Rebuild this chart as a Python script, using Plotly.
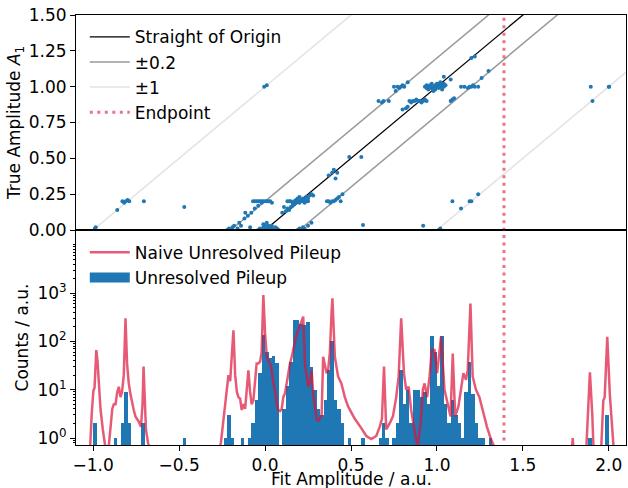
import plotly.graph_objects as go
from plotly.subplots import make_subplots

# ---------------- data ----------------
fit_amp = [
    -0.99, -0.985, -0.86, -0.83, -0.82, -0.81, -0.80, -0.79, -0.705, -0.47,
    -0.005, 0.01,
    -0.22, -0.21, -0.20, -0.19, -0.18, -0.16, -0.15, -0.14, -0.12, -0.115, -0.10, -0.087, -0.08, -0.06, -0.04, -0.02,
    -0.07, -0.06, -0.05, -0.04, -0.03, -0.02, -0.01, 0.0, 0.01, 0.02, 0.03, 0.04,
    -0.04, -0.03, -0.02, -0.01, 0.0, 0.01, 0.02, 0.03, 0.04, 0.05, 0.06, 0.07, 0.08, 0.0, 0.02, 0.04, 0.01, -0.01,
    0.12, 0.13, 0.14, 0.15, 0.16, 0.17, 0.17, 0.18, 0.18, 0.19, 0.20, 0.20, 0.21, 0.21, 0.22, 0.22, 0.23, 0.24, 0.25,
    0.26, 0.27, 0.15, 0.14, 0.13, 0.25, 0.24, 0.19, 0.20, 0.16, 0.23, 0.28, 0.11, 0.10,
    0.19, 0.20, 0.21, 0.22, 0.23, 0.25, 0.27,
    0.36, 0.37, 0.38, 0.39, 0.40, 0.41, 0.42, 0.43, 0.45, 0.44,
    0.37, 0.39, 0.40, 0.42, 0.41, 0.49, 0.56,
    0.93, 0.94, 0.95, 0.96, 0.97, 0.98, 0.99, 1.00, 1.01, 1.02, 1.03, 1.04, 0.95, 0.97, 0.99, 1.01, 1.03, 0.96,
    1.00, 0.98, 1.02, 1.04, 0.94, 1.05,
    0.84, 0.85, 0.86, 0.87, 0.88, 0.89, 0.90, 0.91, 0.92, 0.93, 0.94,
    0.75, 0.77, 0.78, 0.79, 0.80, 0.81, 0.83, 0.76,
    0.66, 0.68, 0.69, 0.72,
    0.80, 0.82, 0.83,
    1.14, 1.16, 1.18, 1.19, 1.20, 1.21, 1.22, 1.24,
    1.08, 1.09, 1.10,
    1.20, 1.22, 1.26, 1.30, 1.04, 1.08,
    1.895, 2.0, 2.002, 1.905,
    1.09, 1.14, 1.19, 1.20, 1.24, 0.57, 0.92, 1.01, 1.02,
]
true_amp = [
    0.01, 0.02, 0.14, 0.20, 0.19, 0.20, 0.21, 0.20, 0.20, 0.16,
    1.00, 1.01,
    0.00, 0.01, 0.00, 0.02, 0.03, 0.01, 0.05, 0.03, 0.08, 0.12, 0.10, 0.02, 0.12, 0.15, 0.17, 0.19,
    0.20, 0.20, 0.20, 0.20, 0.20, 0.20, 0.20, 0.20, 0.20, 0.20, 0.20, 0.19,
    0.00, 0.01, 0.00, 0.02, 0.00, 0.01, 0.00, 0.02, 0.01, 0.00, 0.02, 0.01, 0.00, 0.03, 0.03, 0.03, 0.05, 0.04,
    0.13, 0.15, 0.14, 0.16, 0.17, 0.18, 0.20, 0.19, 0.21, 0.20, 0.20, 0.19, 0.21, 0.20, 0.22, 0.20, 0.21, 0.23, 0.22,
    0.24, 0.25, 0.20, 0.20, 0.20, 0.20, 0.20, 0.22, 0.23, 0.19, 0.19, 0.24, 0.16, 0.12,
    0.00, 0.01, 0.00, 0.02, 0.01, 0.03, 0.05,
    0.20, 0.20, 0.19, 0.20, 0.20, 0.21, 0.22, 0.23, 0.25, 0.20,
    0.38, 0.40, 0.42, 0.40, 0.36, 0.51, 0.51,
    1.00, 0.99, 1.00, 1.01, 0.99, 1.00, 1.01, 1.00, 0.99, 1.00, 1.01, 1.00, 0.98, 1.02, 0.98, 1.02, 0.98, 0.99,
    1.02, 0.97, 1.03, 1.02, 1.01, 1.01,
    0.90, 0.89, 0.90, 0.90, 0.91, 0.90, 0.90, 0.89, 0.90, 0.91, 0.90,
    1.00, 1.00, 0.99, 1.00, 1.01, 1.00, 1.03, 0.97,
    0.90, 0.89, 0.90, 0.90,
    0.84, 0.85, 0.86,
    1.00, 1.00, 0.99, 1.00, 1.00, 1.01, 1.00, 1.00,
    0.90, 0.91, 0.92,
    1.20, 1.21, 1.06, 1.11, 1.07, 1.05,
    1.00, 1.00, 1.00, 0.90,
    0.20, 0.15, 0.20, 0.20, 0.25, 0.035, 0.03, 0.00, 0.01,
]

hist_centers = [
    -0.99, -0.87, -0.83, -0.81, -0.79, -0.71, -0.47,
    -0.23, -0.21, -0.19, -0.13, -0.09, -0.07, -0.05, -0.03, -0.01,
    0.01, 0.03, 0.05, 0.07, 0.11, 0.13, 0.15, 0.17, 0.19, 0.21, 0.23, 0.25, 0.27, 0.29,
    0.31, 0.33, 0.35, 0.37, 0.39, 0.41, 0.43, 0.45, 0.49,
    0.57, 0.67, 0.69, 0.71, 0.75, 0.77, 0.79, 0.81, 0.83, 0.85, 0.87, 0.89, 0.91, 0.93, 0.95,
    0.97, 0.99, 1.01, 1.03, 1.05, 1.07, 1.09, 1.11, 1.13, 1.15, 1.17, 1.19, 1.21, 1.23, 1.25, 1.27, 1.31,
    1.89, 1.99,
]
hist_counts = [
    2, 1, 2, 9, 2, 2, 1,
    1, 3, 1, 1, 1, 2, 6, 22, 135,
    60, 45, 50, 35, 4, 12, 38, 275, 275, 230, 220, 250, 30, 10,
    4, 3, 6, 25, 100, 6, 4, 2, 1,
    1, 1, 2, 1, 1, 2, 25, 5, 10, 2, 10, 10, 7, 9, 5,
    130, 60, 12, 130, 5, 2, 6, 3, 2, 1, 9, 38, 8, 2, 1, 1, 1,
    1, 3,
]

naive_x = [
    -1.03, -1.019, -1.009, -0.999, -0.992, -0.982, -0.975, -0.967, -0.957, -0.944, -0.928,
    -0.909, -0.899, -0.889, -0.880, -0.870, -0.860, -0.851, -0.841, -0.832, -0.822, -0.812, -0.803,
    -0.793, -0.783, -0.774, -0.764, -0.754, -0.735, -0.722, -0.713, -0.707, -0.701, -0.693, -0.681, -0.667,
    -0.30, -0.271, -0.257, -0.242, -0.232, -0.223, -0.213, -0.203, -0.194, -0.184, -0.174, -0.164, -0.155,
    -0.145, -0.136, -0.126, -0.116, -0.106, -0.097, -0.087, -0.078, -0.068, -0.058, -0.049, -0.039, -0.029,
    -0.020, -0.010, 0.000, 0.010, 0.019, 0.029, 0.039, 0.048, 0.058, 0.068, 0.077, 0.087, 0.097, 0.106,
    0.116, 0.126, 0.135, 0.145, 0.155, 0.164, 0.174, 0.184, 0.193, 0.203, 0.213, 0.222, 0.232, 0.242,
    0.251, 0.261, 0.271, 0.280, 0.290, 0.300, 0.309, 0.319, 0.329, 0.338, 0.348, 0.358, 0.367, 0.377,
    0.387, 0.392, 0.406, 0.425, 0.444, 0.464, 0.483, 0.522, 0.560, 0.589, 0.618, 0.647, 0.667, 0.680,
    0.692, 0.705, 0.725, 0.744, 0.763, 0.777, 0.792, 0.808, 0.821, 0.835, 0.850, 0.866, 0.879, 0.889,
    0.905, 0.918, 0.928, 0.943, 0.957, 0.970, 0.986, 1.001, 1.024, 1.044, 1.063, 1.079, 1.092, 1.106,
    1.125, 1.140, 1.154, 1.169, 1.179, 1.195, 1.208, 1.227, 1.247, 1.266, 1.291, 1.314, 1.334, 1.36,
    1.78, 1.79, 1.80,
    1.865, 1.879, 1.890, 1.904, 1.914,
    1.952, 1.968, 1.976, 1.991, 2.006, 2.020, 2.034,
]
naive_y = [
    0.3, 0.5, 3, 9.5, 11, 66, 40, 12, 3.8, 1.5, 0.6,
    0.7, 1.5, 4, 5, 5, 9, 11.5, 7, 9, 20, 300, 35,
    13.5, 8, 5.2, 3.8, 2.8, 2.2, 1.7, 5, 30, 5, 1.5, 0.8, 0.5,
    0.3, 0.5, 0.8, 2.2, 5, 9, 20, 15, 45, 170, 20, 9, 7,
    6.5, 3.8, 5, 4, 9, 25, 9, 5, 6, 15, 35, 35, 38,
    60, 910, 150, 48, 40, 35, 25, 14, 10, 5, 3.8, 3.6, 4, 7,
    8.4, 15, 25, 35, 48, 70, 100, 140, 170, 210, 250, 325, 35, 20,
    11.5, 15, 25, 8, 3.8, 2.5, 2.2, 2.5, 3, 48, 30, 22, 25, 60,
    400, 780, 48, 18.6, 13.5, 7, 4.5, 2.5, 1.6, 1.1, 0.95, 1.1, 1.7, 2.5,
    30, 1.5, 2, 2.8, 7, 18.6, 300, 22, 10, 11.5, 3.8, 1.5, 0.9, 0.72,
    2, 10, 13.5, 7, 18.6, 66, 66, 22, 125, 10, 5.2, 2.8, 56, 2.8,
    4.5, 10, 22, 16, 25, 610, 18.6, 10, 7, 3.8, 1.7, 0.95, 0.65, 0.3,
    0.3, 1.0, 0.3,
    0.3, 5, 23, 3, 0.3,
    0.3, 6, 7, 125, 8, 1.5, 0.3,
]

endpoint = 1.39
band_offsets = [0.2, 1.0]
x_range = [-1.1, 2.1]
top_y_range = [0.0, 1.5]
bottom_log_range = [-0.145, 4.306]
x_ticks = [-1.0, -0.5, 0.0, 0.5, 1.0, 1.5, 2.0]
log_tick_exps = [0, 1, 2, 3]
x_title = "Fit Amplitude / a.u."

# ---------------- figure ----------------
BLUE = "#1f77b4"
RED = "rgba(220,20,60,0.7)"
RED_DOT = "rgba(220,20,60,0.6)"
FONT = "DejaVu Sans"
FS = 17

fig = make_subplots(rows=2, cols=1, shared_xaxes=True, vertical_spacing=0)

lx0, lx1 = x_range[0] - 1, x_range[1] + 1

fig.add_trace(go.Scatter(x=[lx0, lx1], y=[lx0, lx1], mode="lines",
                         line=dict(color="black", width=1.3),
                         name="Straight of Origin", legend="legend"), row=1, col=1)
for off, col, nm in zip(band_offsets, ["rgba(128,128,128,0.8)", "rgba(200,200,200,0.5)"], ["±0.2", "±1"]):
    fig.add_trace(go.Scatter(x=[lx0, lx1, None, lx0, lx1],
                             y=[lx0 + off, lx1 + off, None, lx0 - off, lx1 - off],
                             mode="lines", line=dict(color=col, width=1.5),
                             name=nm, legend="legend"), row=1, col=1)
fig.add_trace(go.Scatter(x=[endpoint, endpoint], y=[-10, 10], mode="lines",
                         line=dict(color=RED_DOT, width=3, dash="3px,4.5px"),
                         name="Endpoint", legend="legend"), row=1, col=1)
fig.add_trace(go.Scatter(x=fit_amp, y=true_amp, mode="markers",
                         marker=dict(color=BLUE, size=4, line=dict(width=0)),
                         showlegend=False), row=1, col=1)

fig.add_trace(go.Bar(x=hist_centers, y=hist_counts, width=0.02,
                     marker=dict(color=BLUE, line=dict(width=0)),
                     showlegend=False), row=2, col=1)
fig.add_trace(go.Scatter(x=[None], y=[None], mode="lines",
                         line=dict(color=BLUE, width=13),
                         name="Unresolved Pileup", legend="legend2", legendrank=2), row=2, col=1)
fig.add_trace(go.Scatter(x=naive_x, y=naive_y, mode="lines",
                         line=dict(color=RED, width=2.5),
                         name="Naive Unresolved Pileup", legend="legend2", legendrank=1), row=2, col=1)
fig.add_trace(go.Scatter(x=[endpoint, endpoint], y=[1e-3, 1e6], mode="lines",
                         line=dict(color=RED_DOT, width=3, dash="3px,4.5px"),
                         showlegend=False), row=2, col=1)

axis_common = dict(showline=True, linecolor="black", linewidth=1, mirror=True,
                   showgrid=False, zeroline=False, ticks="outside", ticklen=5,
                   tickwidth=1, tickcolor="black",
                   tickfont=dict(family=FONT, size=FS, color="black"))

fig.update_xaxes(range=x_range, automargin=False, **axis_common)
fig.update_xaxes(showticklabels=False, ticks="", row=1, col=1)
fig.update_xaxes(tickvals=x_ticks, tickformat=".1f", row=2, col=1)

fig.update_yaxes(**axis_common)
fig.update_yaxes(range=top_y_range, dtick=0.25, tickformat=".2f",
                 title=dict(text="True Amplitude <i>A</i><sub>1</sub>",
                            font=dict(family=FONT, size=FS, color="black"), standoff=3),
                 row=1, col=1)
fig.update_yaxes(type="log", range=bottom_log_range,
                 tickvals=[10 ** e for e in log_tick_exps],
                 ticktext=[f"10<sup>{e}</sup>" for e in log_tick_exps],
                 minor=dict(ticks="outside", ticklen=2.5, tickcolor="black", dtick="D1", showgrid=False),
                 title=dict(text="Counts / a.u.", font=dict(family=FONT, size=FS, color="black"), standoff=4),
                 row=2, col=1)

fig.add_annotation(text=x_title, xref="paper", yref="paper", x=0.5, y=0,
                   xanchor="center", yanchor="middle", yshift=-34, height=18,
                   showarrow=False, font=dict(family=FONT, size=FS, color="black"))

fig.update_layout(
    width=628, height=488,
    margin=dict(l=76, r=2, t=15, b=43),
    plot_bgcolor="white", paper_bgcolor="white",
    font=dict(family=FONT, size=FS, color="black"),
    bargap=0,
    legend=dict(x=0.016, y=0.99, xanchor="left", yanchor="top",
                bgcolor="rgba(0,0,0,0)", font=dict(family=FONT, size=FS), itemwidth=40),
    legend2=dict(x=0.016, y=0.489, xanchor="left", yanchor="top",
                 bgcolor="rgba(0,0,0,0)", font=dict(family=FONT, size=FS), itemwidth=40,
                 traceorder="normal"),
)

fig.write_html("out.html")
